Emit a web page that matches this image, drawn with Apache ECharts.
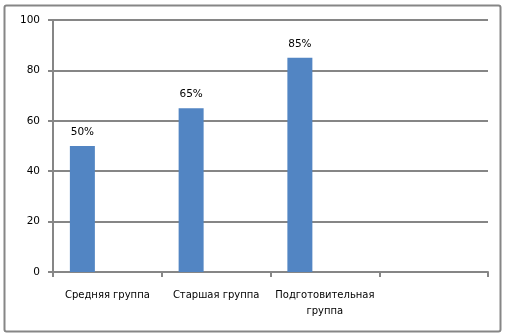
<!DOCTYPE html>
<html><head><meta charset="utf-8">
<script src="https://cdn.jsdelivr.net/npm/echarts@6/dist/echarts.min.js"></script>
<style>html,body{margin:0;padding:0;background:#fff}#c{width:507px;height:336px}</style>
</head><body><div id="c"></div>
<script>
var categories = ['Средняя группа', 'Старшая группа', 'Подготовительная группа', ''];
var values = [50, 65, 85, null];
var yTicks = [0, 20, 40, 60, 80, 100];

var chart = echarts.init(document.getElementById('c'), null, {renderer: 'canvas'});
var font = 'DejaVu Sans';
var gray = '#868686';
var barBase = {type: 'bar', barWidth: 25, barGap: '0%', barCategoryGap: '31%', silent: true};
chart.setOption({
  animation: false,
  textStyle: {fontFamily: font},
  graphic: [{type: 'rect', shape: {x: 4.5, y: 5.5, width: 496, height: 326, r: 2}, style: {fill: 'none', stroke: gray, lineWidth: 2}}],
  grid: {left: 53, right: 19, top: 20, bottom: 64},
  xAxis: {
    type: 'category', data: categories,
    axisLine: {lineStyle: {color: gray, width: 2}},
    axisTick: {show: true, alignWithLabel: false, length: 5, lineStyle: {color: gray, width: 2}},
    axisLabel: {color: '#000', fontSize: 10, fontFamily: font, margin: 15, lineHeight: 16, interval: 0,
      formatter: function (v) { return v.length > 16 ? v.replace(' ', '\n') : v; }}
  },
  yAxis: {
    type: 'value', min: yTicks[0], max: yTicks[yTicks.length - 1], interval: 20,
    axisLine: {show: true, lineStyle: {color: gray, width: 2}},
    axisTick: {show: true, length: 5, lineStyle: {color: gray, width: 2}},
    splitLine: {lineStyle: {color: gray, width: 2}},
    axisLabel: {color: '#000', fontSize: 10.5, fontFamily: font, margin: 13}
  },
  series: [
    Object.assign({}, barBase, {data: values, itemStyle: {color: '#5285C3'},
      label: {show: true, position: 'top', distance: 8, color: '#000', fontSize: 10.5, fontFamily: font, formatter: '{c}%'}}),
    Object.assign({}, barBase, {data: [null, null, null, null]}),
    Object.assign({}, barBase, {data: [null, null, null, null]})
  ]
});
</script></body></html>
